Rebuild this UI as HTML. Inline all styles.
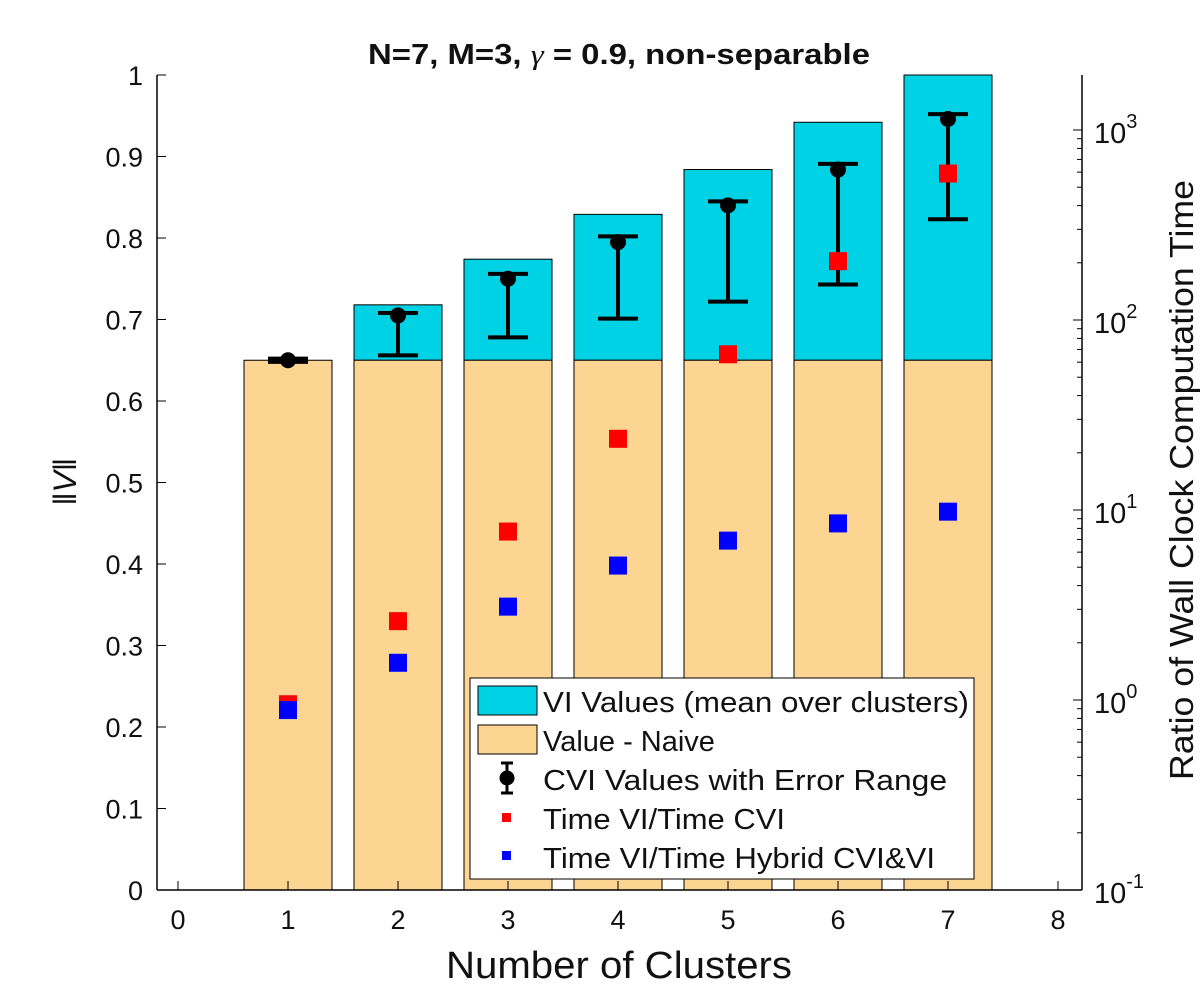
<!DOCTYPE html>
<html><head><meta charset="utf-8"><style>
body{margin:0;background:#fff}
svg text{font-family:"Liberation Sans",sans-serif;fill:#111}
</style></head><body>
<svg id="chart" width="1200" height="1000" xmlns="http://www.w3.org/2000/svg">
<g id="marks"></g>
<g id="axes"></g>
<text x="619" y="64" font-size="29" font-weight="bold" text-anchor="middle" textLength="502" lengthAdjust="spacingAndGlyphs">N=7, M=3, <tspan font-style="italic" font-weight="normal" font-family="Liberation Serif">γ</tspan> = 0.9, non-separable</text>
<text transform="translate(76,482) rotate(-90)" font-size="32" text-anchor="middle" font-family="Liberation Serif" font-style="italic">‖V‖</text>
<text transform="translate(1193,480) rotate(-90)" font-size="33" text-anchor="middle" textLength="600" lengthAdjust="spacingAndGlyphs">Ratio of Wall Clock Computation Time</text>
<text x="619" y="978" font-size="38" text-anchor="middle" textLength="346" lengthAdjust="spacingAndGlyphs">Number of Clusters</text>
<g>
<rect x="470" y="678" width="504" height="201" fill="#fff" stroke="#000" stroke-width="1"/>
<rect x="478" y="686" width="59" height="29" fill="#00D2E6" stroke="#000"/>
<text x="543" y="712" font-size="29" textLength="426" lengthAdjust="spacingAndGlyphs">VI Values (mean over clusters)</text>
<rect x="478" y="725" width="59" height="29" fill="#FCD592" stroke="#000"/>
<text x="543" y="751" font-size="29">Value - Naive</text>
<g stroke="#000" stroke-width="3"><line x1="507" y1="763" x2="507" y2="793"/><line x1="501" y1="763" x2="513" y2="763"/><line x1="501" y1="793" x2="513" y2="793"/><circle cx="507" cy="778" r="6" fill="#000"/></g>
<text x="543" y="790" font-size="29" textLength="404" lengthAdjust="spacingAndGlyphs">CVI Values with Error Range</text>
<rect x="502" y="813" width="9" height="9" fill="#f00"/>
<text x="543" y="829" font-size="29" textLength="242" lengthAdjust="spacingAndGlyphs">Time VI/Time CVI</text>
<rect x="502" y="851" width="9" height="9" fill="#00f"/>
<text x="543" y="868" font-size="29" textLength="392" lengthAdjust="spacingAndGlyphs">Time VI/Time Hybrid CVI&amp;VI</text>
</g>
</svg>
<script>
const clusters=[1,2,3,4,5,6,7];
const naiveValues=[0.65,0.65,0.65,0.65,0.65,0.65,0.65];
const viValues=[0.65,0.718,0.774,0.829,0.884,0.942,1.0];
const cviMean=[0.65,0.705,0.75,0.795,0.84,0.884,0.946];
const cviUpper=[0.652,0.708,0.756,0.802,0.845,0.891,0.952];
const cviLower=[0.648,0.656,0.678,0.701,0.722,0.743,0.823];
const ratioCVI=[0.95,2.6,7.7,23.7,66,204,590];
const ratioHybrid=[0.885,1.57,3.1,5.1,6.9,8.5,9.8];
const xTicks=[0,1,2,3,4,5,6,7,8];
const yTicks=[0,0.1,0.2,0.3,0.4,0.5,0.6,0.7,0.8,0.9,1];
const y2Exps=[-1,0,1,2,3];

const NS='http://www.w3.org/2000/svg';
const X=v=>178+110*v;
const Y=v=>890-815*v;
const Y2=v=>890-190*(Math.log10(v)+1);
function mk(tag,attrs,parent){const e=document.createElementNS(NS,tag);for(const k in attrs)e.setAttribute(k,attrs[k]);parent.appendChild(e);return e;}
const marks=document.getElementById('marks'),axes=document.getElementById('axes');
clusters.forEach((c,i)=>{
  const x0=X(c-0.4),w=X(c+0.4)-x0;
  const b1=mk('rect',{x:x0,y:Y(viValues[i]),width:w,height:Y(naiveValues[i])-Y(viValues[i]),fill:'#00D2E6',stroke:'#000','stroke-width':1},marks);
  
  
  const b2=mk('rect',{x:x0,y:Y(naiveValues[i]),width:w,height:Y(0)-Y(naiveValues[i]),fill:'#FCD592',stroke:'#000','stroke-width':1},marks);
  
  
});
clusters.forEach((c,i)=>{
  const g=mk('g',{stroke:'#000','stroke-width':4},marks);
  
  
  const x=X(c);
  mk('line',{x1:x,x2:x,y1:Y(cviUpper[i]),y2:Y(cviLower[i])},g);
  mk('line',{x1:x-20,x2:x+20,y1:Y(cviUpper[i]),y2:Y(cviUpper[i])},g);
  mk('line',{x1:x-20,x2:x+20,y1:Y(cviLower[i]),y2:Y(cviLower[i])},g);
  mk('circle',{cx:x,cy:Y(cviMean[i]),r:8,fill:'#000',stroke:'none'},g);
});
clusters.forEach((c,i)=>{
  const r=mk('rect',{x:X(c)-9,y:Y2(ratioCVI[i])-9,width:18,height:18,fill:'#f00'},marks);
  
  
  const b=mk('rect',{x:X(c)-9,y:Y2(ratioHybrid[i])-9,width:18,height:18,fill:'#00f'},marks);
  
  
});
mk('line',{x1:157,x2:157,y1:75,y2:890,stroke:'#000','stroke-width':1.5},axes);
mk('line',{x1:157,x2:1082,y1:890,y2:890,stroke:'#000','stroke-width':1.5},axes);
mk('line',{x1:1082,x2:1082,y1:75,y2:890,stroke:'#000','stroke-width':1.5},axes);
xTicks.forEach(t=>{
  mk('line',{x1:X(t),x2:X(t),y1:890,y2:881,stroke:'#000'},axes);
  const tx=mk('text',{x:X(t),y:929,'font-size':27,'text-anchor':'middle'},axes);
  tx.textContent=t;
  
  
});
yTicks.forEach(t=>{
  mk('line',{x1:157,x2:166,y1:Y(t),y2:Y(t),stroke:'#000'},axes);
  const tx=mk('text',{x:143,y:Y(t)+10,'font-size':27,'text-anchor':'end'},axes);
  tx.textContent=t;
  
  
});
y2Exps.forEach(e=>{
  const v=Math.pow(10,e);
  mk('line',{x1:1082,x2:1073,y1:Y2(v),y2:Y2(v),stroke:'#000'},axes);
  for(let m=2;m<10;m++){const yy=Y2(m*v);if(yy>=75)mk('line',{x1:1082,x2:1077,y1:yy,y2:yy,stroke:'#000'},axes);}
  const tx=mk('text',{x:1094,y:Y2(v)+13,'font-size':29},axes);
  
  
  tx.appendChild(document.createTextNode('10'));
  const s=mk('tspan',{dy:-15,'font-size':20},tx);s.textContent=e;
});
</script>
</body></html>
